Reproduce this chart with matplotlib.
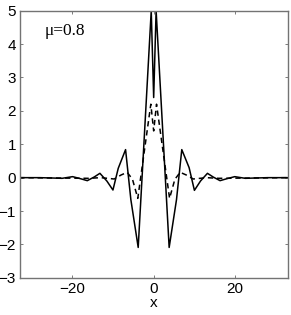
import matplotlib
matplotlib.use('Agg')
import matplotlib.pyplot as plt

# solid curve vertices
solid_x = [-33, -28, -25, -22.5, -19.9, -18, -16.3, -14.6, -13.2, -11.5, -10.0, -8.7,
           -6.9, -5.6, -3.8, -0.6, 0, 0.6, 3.8, 5.6, 6.9, 8.7, 10.0, 11.5, 13.2,
           14.6, 16.3, 18, 19.9, 22.5, 25, 28, 33]
solid_y = [0, 0.0, -0.01, -0.02, 0.03, -0.03, -0.09, 0.02, 0.13, -0.1, -0.37, 0.28,
           0.84, -0.66, -2.09, 5.0, 2.4, 5.0, -2.09, -0.66, 0.84, 0.3, -0.38, -0.1, 0.13,
           0.02, -0.09, -0.03, 0.03, -0.02, -0.01, 0.0, 0]

# dashed curve vertices
dash_x = [-33, -16, -13, -9.7, -8.0, -6.5, -5.2, -3.9, -0.7, 0, 0.7, 3.9, 5.2, 6.5,
          8.0, 9.7, 13, 16, 33]
dash_y = [0, -0.02, 0.0, -0.04, 0.08, 0.16, -0.05, -0.62, 2.2, 1.4, 2.2, -0.62, -0.05,
          0.16, 0.08, -0.04, 0.0, -0.02, 0]

xticks = [-20, 0, 20]
yticks = [-3, -2, -1, 0, 1, 2, 3, 4, 5]

plt.rcParams['font.family'] = ['Liberation Sans', 'DejaVu Sans']

fig = plt.figure(figsize=(2.91, 3.15), dpi=100)
ax = fig.add_axes([0.069, 0.118, 0.921, 0.848])

ax.plot(solid_x, solid_y, color='black', lw=1.1)
ax.plot(dash_x, dash_y, color='black', lw=1.1, dashes=(3.5, 2.5))

ax.set_xlim(-32.8, 33)
ax.set_ylim(-3, 5)
ax.set_xticks(xticks)
ax.set_yticks(yticks)
ax.set_xticklabels(['\u221220', '0', '20'])
ax.set_yticklabels(['\u22123', '\u22122', '\u22121', '0', '1', '2', '3', '4', '5'])
ax.tick_params(direction='in', length=2.5, width=0.6, labelsize=11,
               top=True, right=True, color='0.4', pad=3)
for s in ax.spines.values():
    s.set_color('0.45')
    s.set_linewidth(1.0)

ax.set_xlabel('x', fontsize=11, labelpad=0)
ax.text(0.093, 0.925, '\u03bc=0.8', transform=ax.transAxes, fontsize=12.5,
        family='Liberation Serif', va='center')

fig.savefig('out.png', dpi=100)
